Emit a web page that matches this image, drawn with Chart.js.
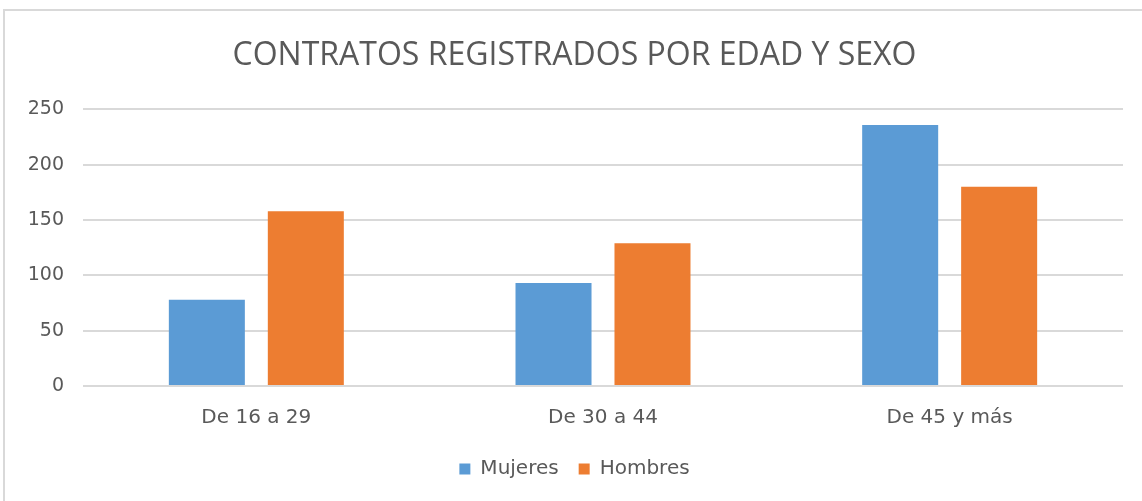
<!DOCTYPE html>
<html>
<head>
<meta charset="utf-8">
<script src="https://cdn.jsdelivr.net/npm/chart.js@4.4.1/dist/chart.umd.min.js"></script>
<style>
  html, body { margin: 0; padding: 0; background: #fff; }
  #frame {
    position: absolute; left: 3px; top: 9px; width: 1150px; height: 500px;
    border-left: 2px solid #d9d9d9; border-top: 2px solid #d9d9d9;
  }
  #chartContratos { position: absolute; left: 0; top: 0; }
</style>
</head>
<body>
<div id="frame"></div>
<canvas id="chartContratos" width="1142" height="501"></canvas>
<script>
'use strict';

// datos del grafico
const categorias = ["De 16 a 29", "De 30 a 44", "De 45 y más"];
const mujeres = [78, 93, 236];
const hombres = [158, 129, 180];
const ticksY = [0, 50, 100, 150, 200, 250];

const gris = '#595959';
const fuente = 'DejaVu Sans';

new Chart(document.getElementById('chartContratos'), {
  type: 'bar',
  data: {
    labels: categorias,
    datasets: [
      {
        label: "Mujeres",
        backgroundColor: "#5b9bd5",
        data: mujeres,
        categoryPercentage: 0.571,
        barPercentage: 0.768
      },
      {
        label: "Hombres",
        backgroundColor: "#ed7d31",
        data: hombres,
        categoryPercentage: 0.571,
        barPercentage: 0.768
      }
    ]
  },
  options: {
    responsive: false,
    animation: false,
    layout: { padding: { left: 26, right: 19, top: 0, bottom: 12 } },
    plugins: {
      title: {
        display: true,
        text: "CONTRATOS REGISTRADOS POR EDAD Y SEXO",
        color: gris,
        font: { family: 'Open Sans', size: 32, weight: 'normal' },
        padding: { top: 37, bottom: 34 }
      },
      legend: {
        position: 'bottom',
        labels: {
          color: gris,
          font: { family: fuente, size: 20 },
          boxWidth: 11,
          boxHeight: 11,
          padding: 20
        }
      },
      tooltip: { enabled: false }
    },
    scales: {
      x: {
        afterFit: function(scale) { scale.height = 53; },
        grid: { display: false, drawTicks: false },
        border: { display: false },
        ticks: { color: gris, font: { family: fuente, size: 20 }, padding: 20 }
      },
      y: {
        min: 0,
        max: 250,
        afterFit: function(scale) { scale.width = 57; },
        afterBuildTicks: function(scale) {
          scale.ticks = ticksY.map(v => ({ value: v }));
        },
        grid: { color: '#d9d9d9', lineWidth: 2, drawTicks: false },
        border: { display: false },
        ticks: { color: gris, font: { family: fuente, size: 19 }, padding: 19 }
      }
    }
  }
});
</script>
</body>
</html>
